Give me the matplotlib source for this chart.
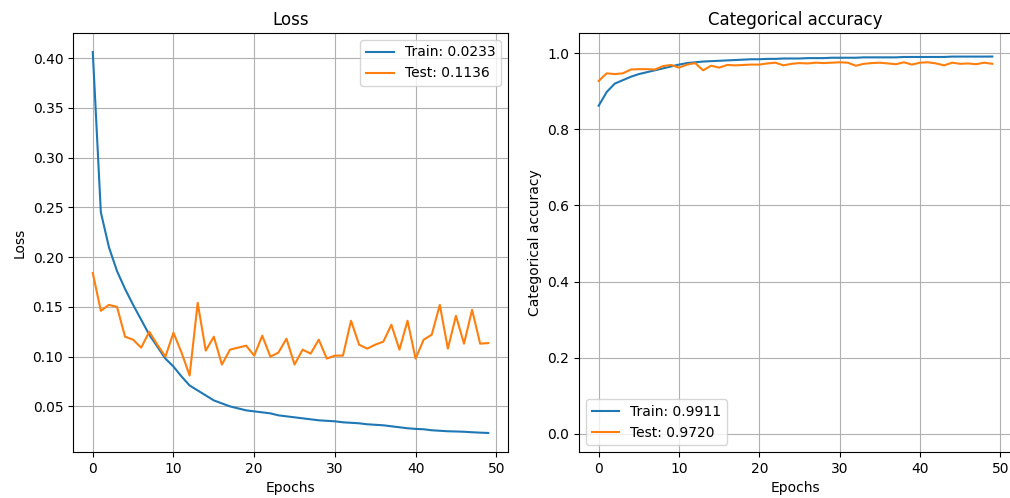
import matplotlib
matplotlib.use('Agg')
import matplotlib.pyplot as plt

# data
epochs = list(range(50))

train_loss = [0.406, 0.245, 0.210, 0.186, 0.168, 0.152, 0.137, 0.122, 0.110, 0.098,
              0.090, 0.080, 0.071, 0.066, 0.061, 0.056, 0.053, 0.050, 0.048, 0.046,
              0.045, 0.044, 0.043, 0.041, 0.040, 0.039, 0.038, 0.037, 0.036, 0.0355,
              0.035, 0.034, 0.0335, 0.033, 0.032, 0.0315, 0.031, 0.030, 0.029, 0.028,
              0.0274, 0.027, 0.026, 0.0255, 0.025, 0.0248, 0.0245, 0.024, 0.0236, 0.0233]
test_loss = [0.184, 0.146, 0.152, 0.150, 0.120, 0.117, 0.109, 0.125, 0.112, 0.100,
             0.124, 0.104, 0.081, 0.154, 0.106, 0.120, 0.092, 0.107, 0.109, 0.111,
             0.101, 0.121, 0.100, 0.104, 0.118, 0.092, 0.107, 0.103, 0.117, 0.098,
             0.101, 0.101, 0.136, 0.112, 0.108, 0.112, 0.115, 0.132, 0.107, 0.136,
             0.098, 0.117, 0.122, 0.152, 0.108, 0.141, 0.113, 0.147, 0.113, 0.1136]

train_acc = [0.862, 0.898, 0.920, 0.929, 0.938, 0.945, 0.950, 0.955, 0.960, 0.965,
             0.970, 0.974, 0.976, 0.978, 0.979, 0.980, 0.981, 0.982, 0.983, 0.984,
             0.984, 0.985, 0.985, 0.986, 0.986, 0.986, 0.987, 0.987, 0.987, 0.988,
             0.988, 0.988, 0.988, 0.989, 0.989, 0.989, 0.989, 0.989, 0.990, 0.990,
             0.990, 0.990, 0.990, 0.990, 0.991, 0.991, 0.991, 0.991, 0.991, 0.9911]
test_acc = [0.927, 0.947, 0.945, 0.947, 0.957, 0.958, 0.958, 0.957, 0.966, 0.969,
            0.962, 0.970, 0.974, 0.955, 0.967, 0.962, 0.969, 0.968, 0.969, 0.970,
            0.970, 0.973, 0.975, 0.968, 0.972, 0.974, 0.973, 0.975, 0.974, 0.975,
            0.976, 0.975, 0.967, 0.972, 0.974, 0.975, 0.973, 0.971, 0.976, 0.970,
            0.975, 0.976, 0.973, 0.968, 0.975, 0.972, 0.973, 0.971, 0.975, 0.972]

fig = plt.figure(figsize=(10.1, 4.98), dpi=100)
ax1 = fig.add_axes([73 / 1010, 46 / 498, 435 / 1010, 419 / 498])
ax2 = fig.add_axes([579 / 1010, 46 / 498, 433 / 1010, 419 / 498])

# Loss
ax1.plot(epochs, train_loss, label='Train: %.4f' % train_loss[-1])
ax1.plot(epochs, test_loss, label='Test: %.4f' % test_loss[-1])
ax1.set_title('Loss')
ax1.set_xlabel('Epochs')
ax1.set_ylabel('Loss')
ax1.grid(True)
ax1.legend(loc='upper right')

# Categorical accuracy
ax2.plot(epochs, train_acc, label='Train: %.4f' % train_acc[-1])
ax2.plot(epochs, test_acc, label='Test: %.4f' % test_acc[-1])
ax2.set_title('Categorical accuracy')
ax2.set_xlabel('Epochs')
ax2.set_ylabel('Categorical accuracy')
ax2.set_ylim(-0.048, 1.053)
ax2.grid(True)
ax2.legend(loc='lower left')

fig.savefig('out.png', dpi=100)
